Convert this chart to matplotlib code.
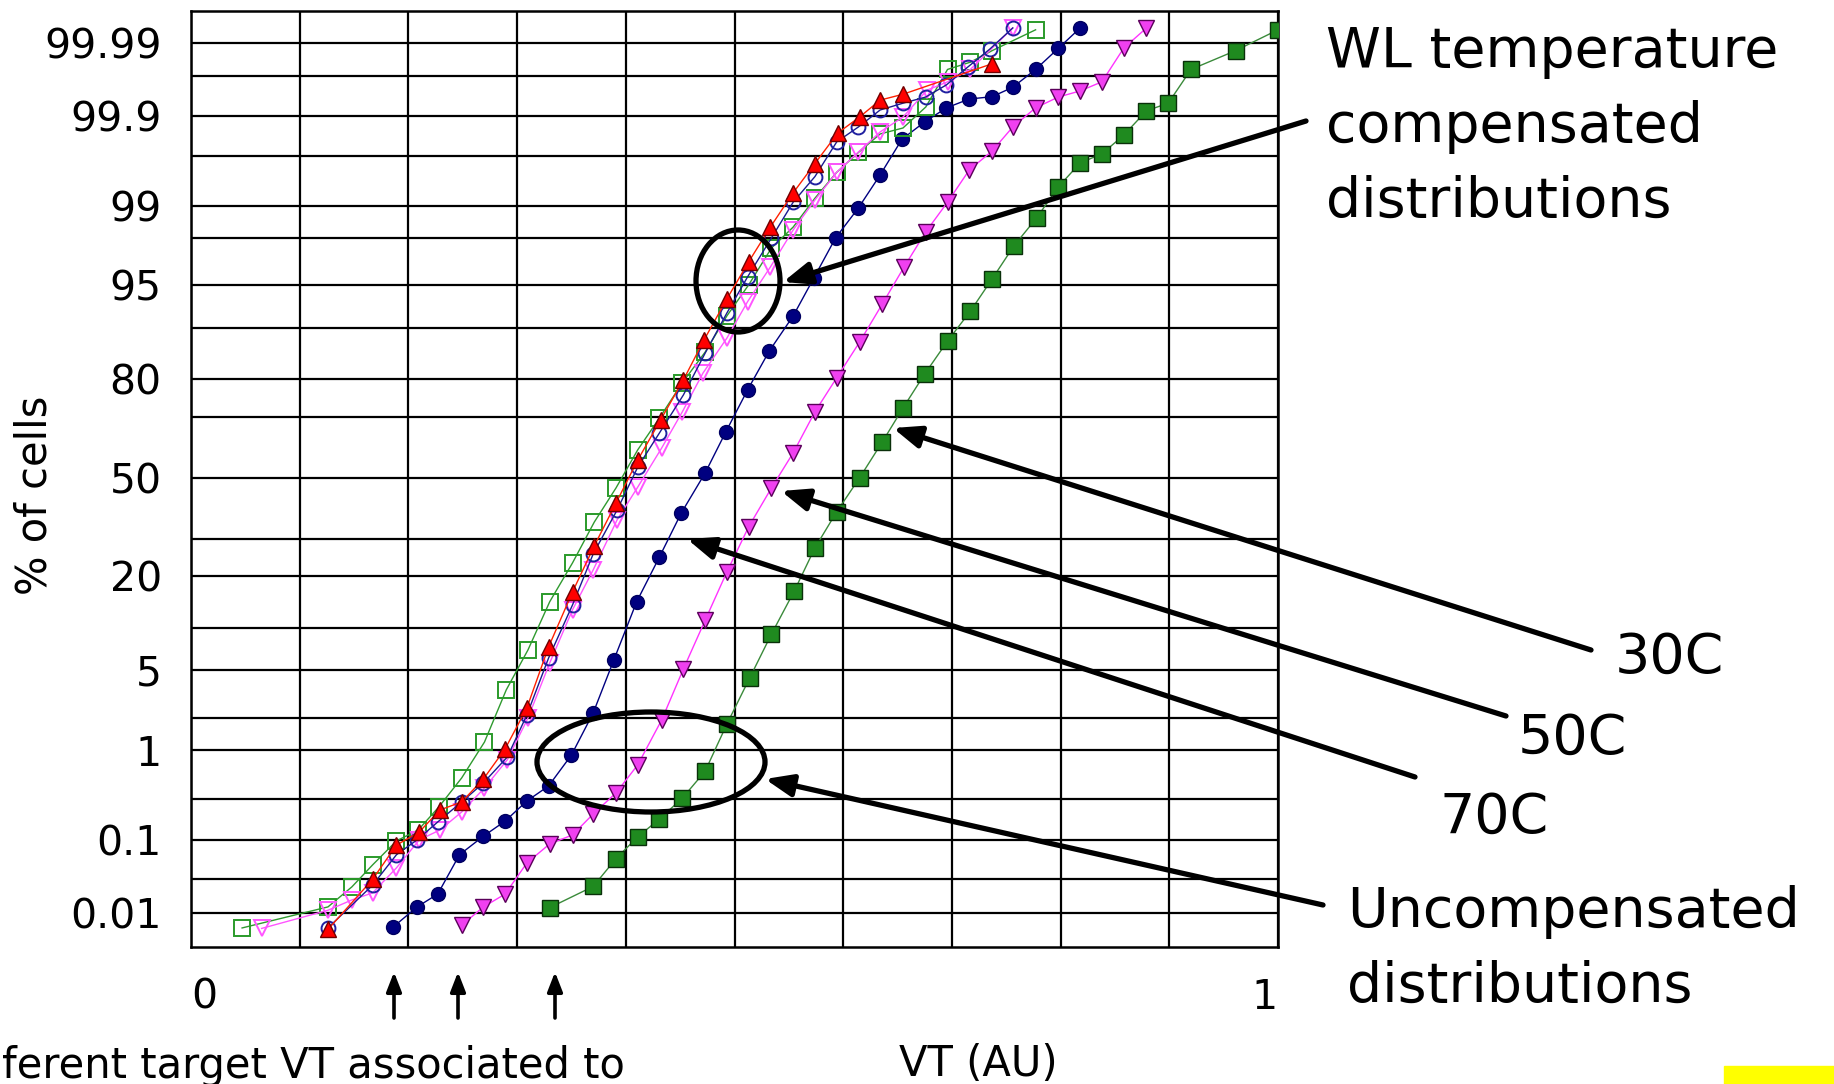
import numpy as np
import matplotlib
matplotlib.use("Agg")
import matplotlib.pyplot as plt
from matplotlib.patches import Ellipse, FancyArrowPatch, Rectangle
from statistics import NormalDist

# ---------------- data (VT in AU, cumulative % of cells) ----------------
# Uncompensated 30C (filled green squares)
x30 = [0.330, 0.370, 0.391, 0.411, 0.431, 0.452, 0.473, 0.493, 0.514, 0.534, 0.555,
       0.574, 0.594, 0.615, 0.636, 0.655, 0.675, 0.696, 0.717, 0.737, 0.757, 0.778,
       0.798, 0.818, 0.838, 0.858, 0.879, 0.899, 0.920, 0.961, 1.0]
y30 = [0.012, 0.024, 0.057, 0.108, 0.178, 0.31, 0.61, 1.77, 4.37, 9.1, 16.7,
       27.5, 38.6, 50.0, 62.1, 72.5, 81.3, 87.9, 92.3, 95.55, 97.63, 98.69,
       99.36, 99.645, 99.72, 99.83, 99.915, 99.932, 99.976, 99.987, 99.9936]

# Uncompensated 50C (filled magenta down-triangles)
x50 = [0.249, 0.269, 0.289, 0.309, 0.330, 0.351, 0.370, 0.391, 0.411, 0.433, 0.453,
       0.473, 0.493, 0.513, 0.534, 0.554, 0.574, 0.594, 0.615, 0.636, 0.656, 0.676,
       0.696, 0.716, 0.737, 0.756, 0.777, 0.798, 0.818, 0.838, 0.858, 0.879]
y50 = [0.0066, 0.0123, 0.0188, 0.050, 0.088, 0.114, 0.204, 0.355, 0.71, 1.93, 5.13,
       11.2, 21.1, 33.8, 46.6, 58.5, 71.4, 80.4, 87.7, 93.15, 96.43, 98.23,
       99.08, 99.576, 99.74, 99.865, 99.922, 99.9435, 99.953, 99.9645, 99.988, 99.994]

# Uncompensated 70C (filled navy circles)
x70 = [0.186, 0.208, 0.227, 0.247, 0.269, 0.289, 0.309, 0.329, 0.350, 0.370, 0.389,
       0.410, 0.431, 0.451, 0.473, 0.492, 0.512, 0.532, 0.554, 0.573, 0.593, 0.614,
       0.634, 0.654, 0.675, 0.695, 0.716, 0.737, 0.756, 0.777, 0.798, 0.818]
y70 = [0.0062, 0.0123, 0.0188, 0.064, 0.11, 0.168, 0.288, 0.424, 0.894, 2.23, 5.99,
       14.5, 25.0, 38.2, 51.7, 65.3, 77.4, 86.1, 91.7, 95.63, 97.99, 98.95,
       99.52, 99.81, 99.883, 99.922, 99.940, 99.944, 99.958, 99.976, 99.988, 99.994]

# Compensated (open green squares)
xg = [0.047, 0.126, 0.148, 0.167, 0.189, 0.209, 0.228, 0.249, 0.270, 0.290, 0.310,
      0.330, 0.351, 0.371, 0.391, 0.411, 0.431, 0.452, 0.473, 0.493, 0.513, 0.534,
      0.554, 0.574, 0.594, 0.614, 0.634, 0.655, 0.676, 0.696, 0.717, 0.737, 0.777]
yg = [0.0060, 0.0123, 0.0237, 0.047, 0.096, 0.131, 0.246, 0.517, 1.20, 3.50, 7.08,
      14.5, 23.4, 35.3, 46.6, 59.5, 69.6, 79.2, 85.9, 91.7, 95.05, 97.53,
      98.40, 99.16, 99.55, 99.73, 99.836, 99.861, 99.924, 99.976, 99.981, 99.987, 99.9936]

# Compensated (filled red up-triangles)
xr = [0.126, 0.167, 0.189, 0.210, 0.229, 0.249, 0.269, 0.289, 0.309, 0.329, 0.351,
      0.371, 0.391, 0.411, 0.432, 0.453, 0.472, 0.493, 0.513, 0.533, 0.554, 0.574,
      0.595, 0.615, 0.634, 0.655, 0.737]
yr = [0.0057, 0.030, 0.085, 0.124, 0.227, 0.281, 0.504, 1.03, 2.47, 7.44, 16.5,
      28.1, 41.5, 56.1, 69.0, 79.9, 88.1, 93.7, 96.76, 98.40, 99.26, 99.64,
      99.84, 99.898, 99.938, 99.948, 99.980]

# Compensated (open navy circles)
xb = [0.126, 0.167, 0.189, 0.208, 0.227, 0.249, 0.269, 0.291, 0.309, 0.329, 0.351,
      0.370, 0.392, 0.411, 0.431, 0.453, 0.473, 0.493, 0.512, 0.534, 0.554, 0.574,
      0.594, 0.614, 0.634, 0.655, 0.676, 0.695, 0.715, 0.735, 0.756]
yb = [0.0060, 0.025, 0.064, 0.099, 0.164, 0.281, 0.457, 0.854, 2.14, 6.2, 13.9,
      25.8, 39.2, 53.7, 65.0, 76.1, 85.7, 92.07, 95.71, 97.99, 99.08, 99.50,
      99.796, 99.865, 99.917, 99.932, 99.9435, 99.961, 99.978, 99.9877, 99.994]

# Compensated (open magenta down-triangles)
xm = [0.065, 0.126, 0.148, 0.167, 0.189, 0.210, 0.229, 0.249, 0.270, 0.291, 0.310,
      0.330, 0.351, 0.370, 0.392, 0.411, 0.433, 0.452, 0.471, 0.493, 0.512, 0.533,
      0.554, 0.574, 0.594, 0.614, 0.634, 0.655, 0.677, 0.696, 0.717, 0.756]
ym = [0.0059, 0.011, 0.0155, 0.0195, 0.043, 0.099, 0.131, 0.215, 0.403, 0.80, 2.01,
      5.69, 13.0, 21.6, 36.0, 46.9, 60.1, 71.4, 81.5, 88.4, 93.4, 96.43,
      98.30, 99.125, 99.55, 99.733, 99.845, 99.898, 99.954, 99.9645, 99.976, 99.994]

# axis ticks
grid_pct = [0.01, 0.03, 0.1, 0.3, 1, 2, 5, 10, 20, 30, 50, 70, 80, 90, 95, 98,
            99, 99.7, 99.9, 99.97, 99.99]
labeled_pct = {0.01: "0.01", 0.1: "0.1", 1: "1", 5: "5", 20: "20", 50: "50",
               80: "80", 95: "95", 99: "99", 99.9: "99.9", 99.99: "99.99"}
x_grid = [0.0, 0.1, 0.2, 0.3, 0.4, 0.5, 0.6, 0.7, 0.8, 0.9, 1.0]

# ---------------- probability scale ----------------
_nd = NormalDist()
_ppf = np.vectorize(_nd.inv_cdf, otypes=[float])
_cdf = np.vectorize(_nd.cdf, otypes=[float])


def fwd(p):
    p = np.asarray(p, dtype=float)
    return _ppf(np.clip(p / 100.0, 1e-12, 1 - 1e-12))


def inv(z):
    return _cdf(np.asarray(z, dtype=float)) * 100.0


W, H = 1834, 1084
fig = plt.figure(figsize=(W / 100, H / 100), dpi=100)
fig.patch.set_facecolor("white")


def fx(X):
    return X / W


def fy(Y):
    return 1 - Y / H


ax = fig.add_axes([fx(191), fy(947), (1278 - 191) / W, (947 - 11) / H])
ax.set_yscale("function", functions=(fwd, inv))
ax.set_ylim(float(inv(-4.009)), float(inv(3.991)))
ax.set_xlim(0, 1)

ax.set_yticks(grid_pct, [labeled_pct.get(p, "") for p in grid_pct])
ax.yaxis.set_minor_locator(matplotlib.ticker.NullLocator())
ax.set_xticks(x_grid, ["0"] + [""] * 9 + ["1"])
xl = ax.get_xticklabels()
xl[0].set_ha("left")
xl[-1].set_ha("right")
ax.tick_params(axis="y", length=0, pad=21, labelsize=29.5)
ax.tick_params(axis="x", length=0, pad=22, labelsize=29.5)
ax.grid(True, color="black", lw=1.6, zorder=0)
for s in ax.spines.values():
    s.set_color("black")
    s.set_linewidth(1.8)
ax.set_axisbelow(True)

lw = 1.0
ax.plot(x30, y30, "-s", color="#3a8a3a", lw=lw, ms=11, mfc="#1f8a1f",
        mec="#0a300a", mew=1.0, zorder=3)
ax.plot(x50, y50, "-v", color="#ff33ff", lw=lw, ms=12, mfc="#f040f0",
        mec="#5a005a", mew=1.0, zorder=3)
ax.plot(x70, y70, "-o", color="#000080", lw=lw, ms=10, mfc="#000080",
        mec="#000060", mew=1.0, zorder=3)
ax.plot(xg, yg, "-s", color="#2f9a2f", lw=lw, ms=11, mfc="none",
        mec="#2a9a2a", mew=1.4, zorder=4)
ax.plot(xm, ym, "-v", color="#ff55ff", lw=lw, ms=12, mfc="none",
        mec="#ff55ff", mew=1.4, zorder=4)
ax.plot(xb, yb, "-o", color="#1a1a90", lw=lw, ms=10, mfc="none",
        mec="#2020a0", mew=1.4, zorder=5)
ax.plot(xr, yr, "-^", color="#ff2000", lw=lw, ms=12, mfc="#ff0000",
        mec="#700000", mew=1.0, zorder=6)

# ---------------- annotations ----------------
tk = dict(fontsize=40, color="black", family="DejaVu Sans")
for txt, (X, Y) in [("WL temperature", (1326, 67)), ("compensated", (1326, 142)),
                    ("distributions", (1326, 217)), ("30C", (1615, 673)),
                    ("50C", (1518, 754)), ("70C", (1440, 833)),
                    ("Uncompensated", (1347, 927)), ("distributions", (1347, 1002))]:
    fig.text(fx(X), fy(Y), txt, ha="left", va="baseline", **tk)

fig.text(fx(35), fy(495), "% of cells", rotation=90, ha="center", va="center",
         fontsize=30)
fig.text(fx(978), fy(1076), "VT (AU)", ha="center", va="baseline", fontsize=30)
fig.text(fx(2), fy(1078), "ferent target VT associated to", ha="left",
         va="baseline", fontsize=30)


def big_arrow(x0, y0, x1, y1):
    fig.add_artist(FancyArrowPatch((fx(x0), fy(y0)), (fx(x1), fy(y1)),
                                   transform=fig.transFigure,
                                   arrowstyle="-|>,head_length=0.75,head_width=0.3",
                                   mutation_scale=22, lw=3.8, color="black",
                                   shrinkA=0, shrinkB=0, zorder=10))


big_arrow(1306, 121, 783, 282)
big_arrow(1591, 650, 893, 428)
big_arrow(1506, 716, 781, 491)
big_arrow(1415, 777, 687, 539)
big_arrow(1323, 905, 765, 779)

fig.add_artist(Ellipse((fx(738), fy(281)), 84 / W, 102 / H, transform=fig.transFigure,
                       fill=False, lw=3.8, ec="black", zorder=10))
fig.add_artist(Ellipse((fx(651), fy(762)), 228 / W, 100 / H, transform=fig.transFigure,
                       fill=False, lw=3.8, ec="black", zorder=10))

for X in [394, 458, 555]:
    fig.add_artist(FancyArrowPatch((fx(X), fy(1018)), (fx(X), fy(972)),
                                   transform=fig.transFigure,
                                   arrowstyle="-|>,head_length=0.9,head_width=0.35",
                                   mutation_scale=13, lw=2.6, color="black",
                                   shrinkA=0, shrinkB=0))

fig.add_artist(Rectangle((fx(1724), 0), (W - 1724) / W, 18 / H, transform=fig.transFigure,
                         color="#ffff00", zorder=10))

fig.savefig("out.png", dpi=100)
